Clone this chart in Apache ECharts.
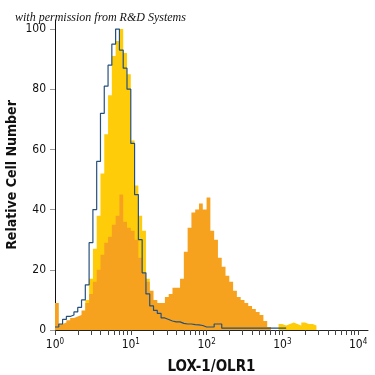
<!DOCTYPE html>
<html>
<head>
<meta charset="utf-8">
<script src="https://cdn.jsdelivr.net/npm/echarts@6/dist/echarts.min.js"></script>
<style>
  html, body { margin: 0; padding: 0; background: #fff; }
  #main { width: 375px; height: 375px; }
</style>
</head>
<body>
<div id="main"></div>
<script>
// histogram bins, 0.05 decade wide, starting at 10^0
var binWidth = 0.05;
var decadeLabels = [0, 1, 2, 3, 4];
var yTicks = [0, 20, 40, 60, 80, 100];

// isotype control (blue outline)
var isotype = [1, 2, 3.5, 4.5, 5, 6, 7.5, 10, 15, 29, 40, 56, 72, 81, 88, 95, 100, 93, 87, 80,
  62, 45, 30, 19, 12, 8, 6.5, 5.5, 4, 3.5, 3, 2.7, 2.7, 2.2, 2, 2, 1.8, 1.7, 1.5, 1,
  1, 1, 2, 2, 0.6, 0.6, 0.6, 0.6, 0.6, 0.6, 0.6, 0.6, 0.6, 0.6, 0.6, 0.6, 0.6, 0.6, 0.6, 0.6, 0.6];

// yellow filled histogram
var yellowHist = [1, 1, 2, 2.5, 3, 3.5, 4, 5, 10, 17, 27, 38, 52, 65, 78, 91, 96, 100, 92, 85,
  63, 48, 38, 33, 17, 10, 8, 5, 4, 3, 2.5, 2, 2, 1.5, 1.5, 1.5, 1.5, 1.5, 1.5, 1.5,
  1.5, 1.5, 1.5, 1.5, 1.5, 1, 1, 1, 1, 1, 1, 1, 1, 1, 1, 1, 0, 0, 0, 2,
  1.5, 2, 2.5, 2, 1.5, 2.5, 2, 2, 1.5, 0];

// orange filled histogram (LOX-1/OLR1)
var orangeHist = [9, 2, 2.5, 3.2, 4, 4.5, 5, 6.5, 9, 12, 16, 20, 25, 29, 31, 35, 38, 45, 36, 34,
  33, 30, 24, 19, 16, 13, 10, 9, 9, 11, 12, 14, 14, 17, 26, 34, 39, 40, 42, 40,
  44, 33, 30, 24, 21, 18, 16, 13, 11, 10, 9, 8, 7, 6, 5, 3, 1, 0];

function toSteps(vals) {
    var pts = vals.map(function (v, i) { return [i * binWidth, v]; });
    pts.push([vals.length * binWidth, vals[vals.length - 1]]);
    return pts;
}

var minorTicks = [];
for (var d = 0; d < 4; d++) {
    for (var k = 1; k < 10; k++) minorTicks.push(d + Math.log10(k));
}
minorTicks.push(4);

var font = '"Liberation Sans Narrow", "DejaVu Sans Condensed", sans-serif';

var myChart = echarts.init(document.getElementById('main'));
var option = {
    animation: false,
    title: {
        text: 'with permission from R&D Systems',
        left: 10,
        top: 7,
        textStyle: {
            fontFamily: '"Liberation Serif", serif',
            fontStyle: 'italic',
            fontWeight: 'normal',
            fontSize: 12,
            color: '#111'
        }
    },
    grid: { left: 55, right: 7, top: 20, bottom: 45, outerBoundsMode: 'none' },
    xAxis: {
        type: 'value',
        min: 0,
        max: 4.13,
        name: 'LOX-1/OLR1',
        nameLocation: 'middle',
        nameGap: 30,
        nameMoveOverlap: false,
        nameTextStyle: { fontFamily: font, fontWeight: 'bold', fontSize: 15, color: '#111' },
        axisLine: { lineStyle: { color: '#222', width: 1 } },
        axisTick: { customValues: minorTicks, length: 5, lineStyle: { color: '#444' } },
        splitLine: { show: false },
        axisLabel: {
            customValues: decadeLabels,
            margin: 8,
            formatter: function (v) { return '{b|10}{e|' + v + '}'; },
            rich: {
                b: { fontFamily: font, fontSize: 12, color: '#111', lineHeight: 14 },
                e: { fontFamily: font, fontSize: 8, color: '#111', lineHeight: 9, verticalAlign: 'top' }
            }
        }
    },
    yAxis: {
        type: 'value',
        min: 0,
        max: 103,
        name: 'Relative Cell Number',
        nameLocation: 'middle',
        nameGap: 36,
        nameMoveOverlap: false,
        nameTextStyle: { fontFamily: font, fontWeight: 'bold', fontSize: 14, color: '#111' },
        axisLine: { show: true, lineStyle: { color: '#111', width: 1 } },
        axisTick: { show: true, customValues: yTicks, length: 5, lineStyle: { color: '#999' } },
        splitLine: { show: false },
        axisLabel: {
            customValues: yTicks,
            margin: 9,
            fontFamily: font,
            fontSize: 12,
            color: '#111'
        }
    },
    series: [{
        name: 'yellow',
        type: 'line',
        step: 'end',
        showSymbol: false,
        data: toSteps(yellowHist),
        lineStyle: { width: 0 },
        areaStyle: { color: '#FFCC0A', opacity: 1 },
        z: 1
    }, {
        name: 'orange',
        type: 'line',
        step: 'end',
        showSymbol: false,
        data: toSteps(orangeHist),
        lineStyle: { width: 0 },
        areaStyle: { color: '#F7A21F', opacity: 1 },
        z: 2
    }, {
        name: 'isotype',
        type: 'line',
        step: 'end',
        showSymbol: false,
        data: toSteps(isotype),
        lineStyle: { color: '#25507c', width: 1.2 },
        z: 3
    }]
};
myChart.setOption(option);
</script>
</body>
</html>
